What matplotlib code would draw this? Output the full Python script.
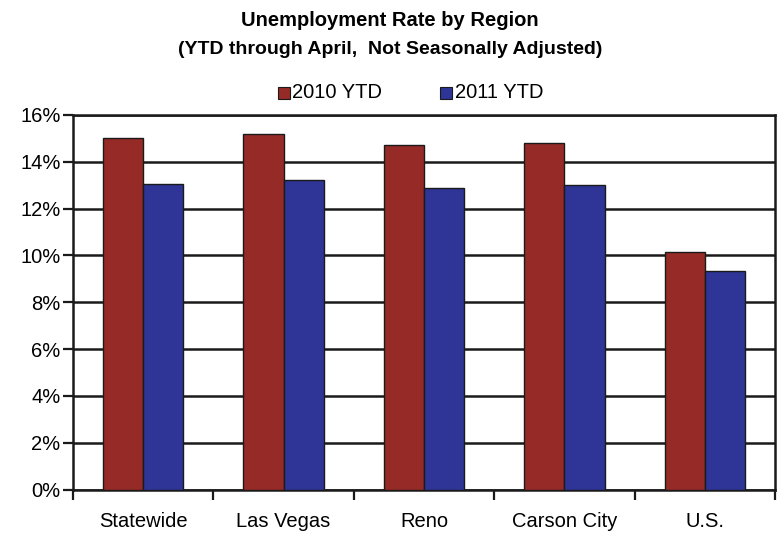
import matplotlib
matplotlib.use("Agg")
import matplotlib.pyplot as plt
import numpy as np
from matplotlib.ticker import FuncFormatter
from matplotlib.patches import Rectangle

plt.rcParams['font.family'] = ['Liberation Sans', 'DejaVu Sans']

regions = ["Statewide", "Las Vegas", "Reno", "Carson City", "U.S."]
ytd_2010 = [15.03, 15.2, 14.7, 14.8, 10.14]
ytd_2011 = [13.07, 13.24, 12.86, 13.01, 9.34]
series_labels = ["2010 YTD", "2011 YTD"]
yticks = [0, 2, 4, 6, 8, 10, 12, 14, 16]

red = "#962A27"
blue = "#2E3596"
edge = "#1a1a1a"

fig = plt.figure(figsize=(7.8, 5.33), dpi=100)
ax = fig.add_axes([73 / 780, 1 - 489.5 / 533, 702 / 780, 374.5 / 533])

x = np.arange(len(regions))
w = 40 / 140
ax.bar(x - w / 2, ytd_2010, width=w, color=red, edgecolor=edge, linewidth=1.0, zorder=3)
ax.bar(x + w / 2, ytd_2011, width=w, color=blue, edgecolor=edge, linewidth=1.0, zorder=3)

ax.set_xlim(-0.5, len(regions) - 0.5)
ax.set_ylim(0, 16)
ax.set_yticks(yticks)
ax.yaxis.set_major_formatter(FuncFormatter(lambda v, p: f"{v:.0f}%"))
ax.grid(axis='y', color='#1a1a1a', linewidth=1.8, zorder=1)
ax.set_axisbelow(True)

# category labels centred, ticks on the boundaries
ax.set_xticks(x)
ax.set_xticklabels(regions, fontsize=14.5)
ax.tick_params(axis='x', which='major', length=0, pad=16)
ax.set_xticks(np.arange(-0.5, len(regions) + 0.5, 1), minor=True)
ax.tick_params(axis='x', which='minor', length=7, width=1.6, color='#1a1a1a', direction='out')
ax.tick_params(axis='y', length=7, width=1.6, color='#1a1a1a', labelsize=14.5, pad=2)

for s in ax.spines.values():
    s.set_color('#1a1a1a')
    s.set_linewidth(1.8)

fig.text(0.5, 1 - 20 / 533, "Unemployment Rate by Region", ha='center', va='center',
         fontsize=14.5, fontweight='bold')
fig.text(0.5, 1 - 50 / 533, "(YTD through April,  Not Seasonally Adjusted)", ha='center',
         va='center', fontsize=14, fontweight='bold')

# legend
ly = 1 - 93 / 533
for (sx, tx, c, lab) in [(278, 292, red, series_labels[0]), (440, 455, blue, series_labels[1])]:
    fig.patches.append(Rectangle((sx / 780, ly - 6 / 533), 12 / 780, 12 / 533,
                                 transform=fig.transFigure, facecolor=c,
                                 edgecolor=edge, linewidth=0.8))
    fig.text(tx / 780, ly, lab, ha='left', va='center', fontsize=14.5)

fig.savefig("out.png", dpi=100)
